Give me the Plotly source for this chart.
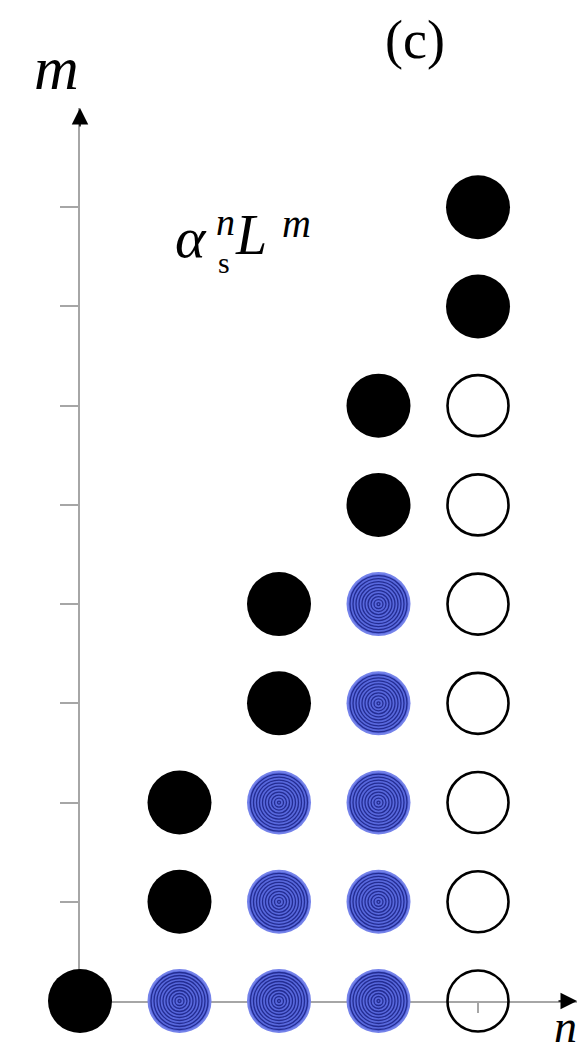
import plotly.graph_objects as go

# ---- data ----
black_n = [0, 1, 1, 2, 2, 3, 3, 4, 4]
black_m = [0, 1, 2, 3, 4, 5, 6, 7, 8]
blue_n = [1, 2, 3, 2, 3, 2, 3, 3, 3]
blue_m = [0, 0, 0, 1, 1, 2, 2, 3, 4]
open_n = [4, 4, 4, 4, 4, 4, 4]
open_m = [0, 1, 2, 3, 4, 5, 6]
y_ticks = [1, 2, 3, 4, 5, 6, 7, 8]
x_ticks = [0, 1, 2, 3, 4]

W, H = 588, 1054
OFF = 8  # page body margin
L, R, T, B = 72, 19, 100, 61
XMAX = 4.995
YMAX = 9.0
pw, ph = W - L - R, H - T - B

def px(sx):
    return (sx - OFF - L) / pw

def py(sy):
    return (H - B - (sy - OFF)) / ph

fig = go.Figure()

D = 64
fig.add_trace(go.Scatter(x=black_n, y=black_m, mode="markers", cliponaxis=False,
                         marker=dict(size=D, color="black", line=dict(width=0)),
                         hoverinfo="skip", showlegend=False))
# blue concentric-ring discs
fig.add_trace(go.Scatter(x=blue_n, y=blue_m, mode="markers", cliponaxis=False,
                         marker=dict(size=D, color="#7482ea", line=dict(width=0)),
                         hoverinfo="skip", showlegend=False))
fig.add_trace(go.Scatter(x=blue_n, y=blue_m, mode="markers", cliponaxis=False,
                         marker=dict(size=D - 4, color="#5868dc", line=dict(width=0)),
                         hoverinfo="skip", showlegend=False))
for s in range(D - 7, 2, -6):
    fig.add_trace(go.Scatter(x=blue_n, y=blue_m, mode="markers", cliponaxis=False,
                             marker=dict(size=s, symbol="circle-open", color="#232c92",
                                         line=dict(width=1.3, color="#232c92")),
                             hoverinfo="skip", showlegend=False))
fig.add_trace(go.Scatter(x=open_n, y=open_m, mode="markers", cliponaxis=False,
                         marker=dict(size=D - 3, symbol="circle-open", color="black",
                                     line=dict(width=2.6, color="black")),
                         hoverinfo="skip", showlegend=False))

axis_common = dict(showgrid=False, zeroline=False, showticklabels=False,
                   showline=True, linecolor="#a6a6a6", linewidth=2,
                   ticks="outside", tickcolor="#a6a6a6", tickwidth=2,
                   layer="below traces", mirror=False)

fig.update_layout(
    width=W, height=H,
    margin=dict(l=L, r=R, t=T, b=B, pad=0),
    paper_bgcolor="white", plot_bgcolor="white",
    xaxis=dict(range=[0, XMAX], tickvals=x_ticks, ticklen=10, **axis_common),
    yaxis=dict(range=[0, YMAX], tickvals=y_ticks, ticklen=18, **axis_common),
    showlegend=False,
)

# arrowheads
fig.add_annotation(x=XMAX, y=0, xref="x", yref="y", ax=-20, ay=0, text="",
                   showarrow=True, arrowhead=2, arrowsize=2.2, arrowwidth=1.5,
                   arrowcolor="black", standoff=0)
fig.add_annotation(x=0, y=YMAX, xref="x", yref="y", ax=0, ay=20, text="",
                   showarrow=True, arrowhead=2, arrowsize=2.2, arrowwidth=1.5,
                   arrowcolor="black", standoff=0)

serif = "Liberation Serif, DejaVu Serif, serif"

def txt(sx, sy, text, size, anchor="left", italic=True):
    fig.add_annotation(x=px(sx), y=py(sy), xref="paper", yref="paper",
                       text=f"<i>{text}</i>" if italic else text,
                       showarrow=False, xanchor=anchor, yanchor="middle",
                       font=dict(family=serif, size=size, color="black"))

txt(56, 68, "m", 62, anchor="center")
txt(579, 1026, "n", 46, anchor="right")
txt(415, 40, "(c)", 54, anchor="center", italic=False)
txt(173, 237, "α", 58)
txt(214, 222, "n", 38)
txt(216, 262, "s", 30, italic=False)
txt(233, 235, "L", 56)
txt(280, 224, "m", 40)

fig.write_html("out.html")
